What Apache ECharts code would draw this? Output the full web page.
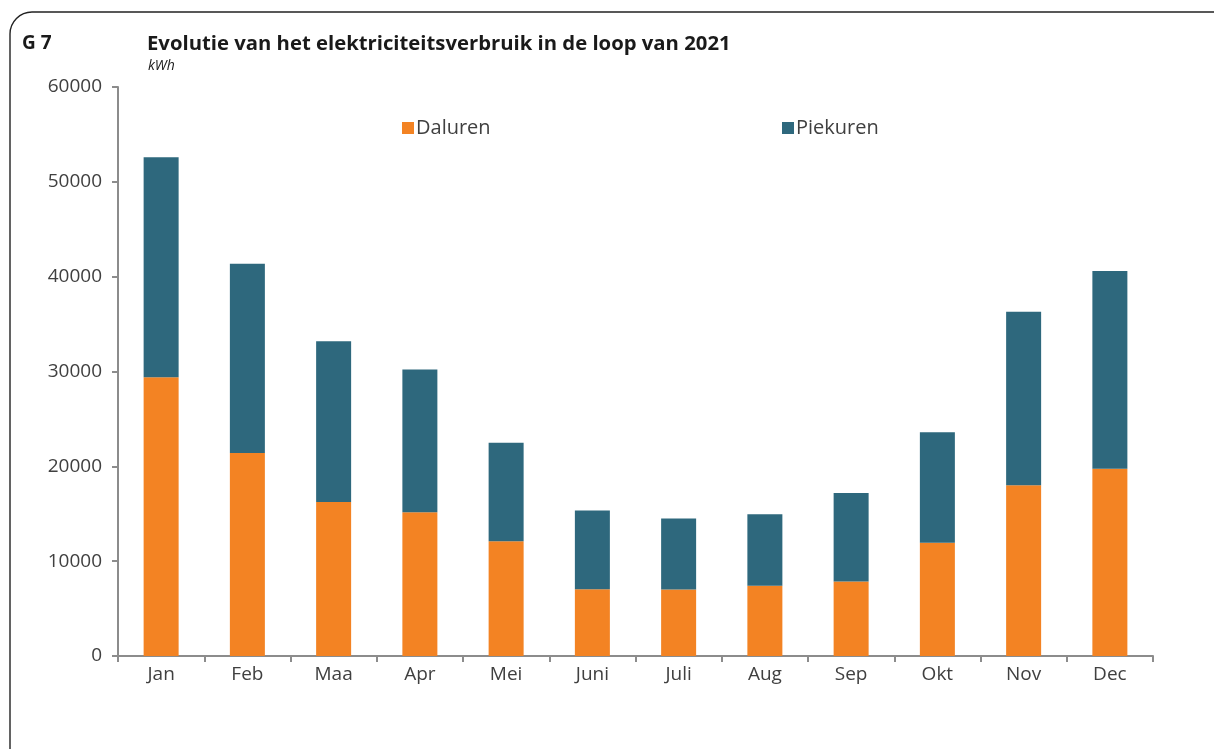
<!DOCTYPE html>
<html>
<head>
<meta charset="utf-8">
<script src="https://cdn.jsdelivr.net/npm/echarts@6/dist/echarts.min.js"></script>
<style>
html,body{margin:0;padding:0;background:#fff;}
#chart{width:1214px;height:749px;}
</style>
</head>
<body>
<div id="chart"></div>
<script>
var months = ['Jan','Feb','Maa','Apr','Mei','Juni','Juli','Aug','Sep','Okt','Nov','Dec'];
var daluren = [29400, 21400, 16250, 15150, 12100, 7050, 7000, 7400, 7850, 11950, 18000, 19750];
var piekuren = [23200, 19950, 16950, 15050, 10400, 8300, 7500, 7550, 9350, 11650, 18300, 20850];
var yTicks = [0, 10000, 20000, 30000, 40000, 50000, 60000];

var FONT = 'Open Sans';
var chart = echarts.init(document.getElementById('chart'), null, {renderer:'canvas'});
chart.setOption({
  animation:false,
  textStyle:{fontFamily:FONT},
  graphic:[
    {type:'rect', shape:{x:10, y:12, width:1240, height:780, r:22}, style:{fill:'none', stroke:'#222', lineWidth:1.4}, silent:true},
    {type:'text', left:22, top:34, style:{text:'G 7', font:'bold 19px "Open Sans"', fill:'#1a1a1a'}},
    {type:'text', left:147, top:34, style:{text:'Evolutie van het elektriciteitsverbruik in de loop van 2021', font:'bold 20.3px "Open Sans"', fill:'#1a1a1a'}},
    {type:'text', left:148, top:59, style:{text:'kWh', font:'italic 14px "Open Sans"', fill:'#1a1a1a'}}
  ],
  legend:[
    {data:['Daluren'], left:397, top:113, itemWidth:12, itemHeight:12, icon:'rect', itemGap:0,
     textStyle:{fontSize:20, color:'#404040', fontFamily:FONT, padding:[0,0,0,-3]}},
    {data:['Piekuren'], left:777, top:113, itemWidth:12, itemHeight:12, icon:'rect', itemGap:0,
     textStyle:{fontSize:20, color:'#404040', fontFamily:FONT, padding:[0,0,0,-3]}}
  ],
  grid:{left:118, right:61, top:87, bottom:93, containLabel:false},
  xAxis:{
    type:'category', data:months, boundaryGap:true,
    axisLine:{lineStyle:{color:'#8c8c8c', width:2}},
    axisTick:{show:true, alignWithLabel:false, length:6, lineStyle:{color:'#8c8c8c', width:2}},
    axisLabel:{color:'#404040', fontSize:19, margin:9, fontFamily:FONT}
  },
  yAxis:{
    type:'value', min:yTicks[0], max:yTicks[yTicks.length-1], interval:10000,
    axisLine:{show:true, lineStyle:{color:'#8c8c8c', width:2}},
    axisTick:{show:true, length:6, lineStyle:{color:'#8c8c8c', width:2}},
    splitLine:{show:false},
    axisLabel:{color:'#404040', fontSize:19, margin:16, fontFamily:FONT, formatter:function(v){return String(v);}}
  },
  series:[
    {name:'Daluren', type:'bar', stack:'t', data:daluren, barWidth:35,
     itemStyle:{color:'#F38323'}},
    {name:'Piekuren', type:'bar', stack:'t', data:piekuren, barWidth:35,
     itemStyle:{color:'#2E687D'}}
  ]
});
</script>
</body>
</html>
